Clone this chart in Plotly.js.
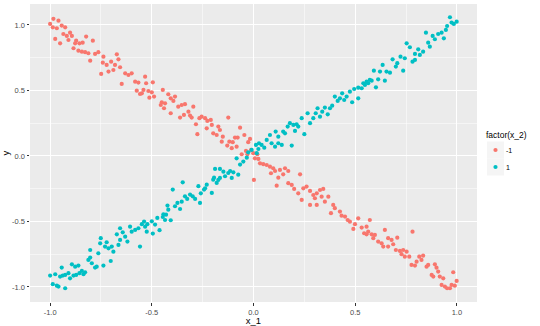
<!DOCTYPE html>
<html>
<head>
<meta charset="utf-8">
<script src="https://cdn.plot.ly/plotly-3.0.1.min.js"></script>
<style>
  html, body { margin: 0; padding: 0; background: #ffffff; }
  #chart { width: 540px; height: 326px; }
</style>
</head>
<body>
<div id="chart"></div>
<script>
// ---- data ----
const groupNames = ["-1", "1"];
const groupColors = ["#F8766D", "#00BFC4"];
const legendTitle = "factor(x_2)";

const redX = [
-0.984,-0.959,-1.0,-0.987,-0.967,-0.943,-0.926,-0.935,-0.918,-0.902,-0.893,-0.910,-0.975,-0.951,-0.872,-0.877,-0.856,-0.840,-0.823,-0.790,
-0.885,-0.861,-0.844,-0.828,-0.812,-0.779,-0.763,-0.803,-0.738,-0.741,-0.722,-0.700,-0.672,-0.664,-0.681,-0.656,-0.689,-0.713,-0.749,-0.631,
-0.615,-0.599,-0.648,-0.582,-0.566,-0.533,-0.528,-0.574,-0.558,-0.541,
-0.495,-0.549,-0.517,-0.500,-0.489,-0.512,-0.446,-0.419,-0.407,-0.394,-0.386,-0.451,-0.435,-0.456,-0.440,-0.407,-0.370,-0.353,-0.337,-0.361,
-0.342,-0.320,-0.312,-0.296,-0.304,-0.283,-0.266,-0.255,-0.238,-0.276,-0.227,-0.210,-0.230,-0.205,-0.198,-0.173,-0.165,-0.181,-0.151,-0.124,
-0.156,-0.129,-0.119,-0.091,-0.078,-0.066,-0.102,-0.083,-0.107,-0.045,-0.026,-0.017,-0.037,-0.058,-0.030,-0.012,-0.001,0.007,0.002,0.019,0.024,
0.032,0.048,0.065,0.081,0.097,0.106,0.086,0.130,0.155,0.171,0.146,0.122,0.114,0.171,0.188,0.200,0.229,0.220,0.245,0.261,
0.237,0.278,0.294,0.311,0.302,0.327,0.343,0.335,0.278,0.311,0.351,0.368,0.392,0.400,0.381,0.425,0.433,0.450,0.463,0.474,
0.499,0.491,0.515,0.532,0.556,0.544,0.564,0.572,
0.556,0.581,0.597,0.589,0.613,0.630,0.638,0.646,0.662,0.679,0.687,0.707,0.662,0.700,0.720,0.728,0.736,0.753,0.744,0.766,
0.782,0.777,0.794,0.802,0.815,0.826,0.834,0.851,0.859,0.892,0.900,0.908,0.876,0.884,0.916,0.933,0.925,0.941,0.952,0.966,
0.974,0.990,0.982,0.999
];
const redY = [
1.047,1.033,1.008,0.982,0.975,0.995,0.982,0.931,0.916,0.941,0.916,0.885,0.893,0.860,0.880,0.860,0.860,0.865,0.911,0.880,
0.822,0.804,0.796,0.792,0.784,0.779,0.792,0.727,0.758,0.712,0.695,0.720,0.776,0.738,0.695,0.677,0.656,0.644,0.626,0.631,
0.618,0.631,0.550,0.567,0.560,0.605,0.555,0.498,0.473,0.504,
0.562,0.478,0.496,0.486,0.453,0.445,0.504,0.471,0.440,0.420,0.453,0.410,0.402,0.389,0.364,0.326,0.376,0.389,0.395,0.293,
0.313,0.338,0.308,0.376,0.293,0.242,0.288,0.300,0.288,0.166,0.267,0.275,0.211,0.237,0.173,0.224,0.198,0.160,0.147,0.293,
0.109,0.079,0.109,0.140,0.140,0.216,0.105,0.071,0.059,0.160,0.105,0.130,0.038,0.013,0.013,0.046,0.021,-0.018,-0.183,0.013,-0.023,
-0.056,-0.063,-0.069,-0.082,-0.094,-0.115,-0.132,-0.107,-0.094,-0.115,-0.140,-0.166,-0.227,-0.208,-0.221,-0.252,-0.140,-0.285,-0.247,-0.234,
-0.336,-0.267,-0.298,-0.285,-0.323,-0.260,-0.252,-0.311,-0.374,-0.374,-0.349,-0.311,-0.374,-0.399,-0.437,-0.425,-0.456,-0.463,-0.489,-0.502,
-0.521,-0.557,-0.476,-0.547,-0.540,-0.590,-0.578,-0.489,
-0.598,-0.598,-0.603,-0.628,-0.654,-0.667,-0.692,-0.565,-0.628,-0.641,-0.674,-0.624,-0.692,-0.718,-0.725,-0.750,-0.718,-0.731,-0.769,-0.769,
-0.578,-0.832,-0.837,-0.807,-0.769,-0.794,-0.761,-0.845,-0.832,-0.827,-0.853,-0.883,-0.908,-0.921,-0.921,-0.934,-0.985,-0.997,-1.010,-1.010,
-0.985,-0.990,-0.888,-0.954
];

const tealX = [
-1.0,-0.975,-0.987,-0.967,-0.959,-0.926,-0.951,-0.938,-0.943,-0.926,-0.910,-0.902,-0.893,-0.885,-0.872,-0.877,-0.861,-0.856,-0.844,-0.828,
-0.836,-0.812,-0.803,-0.795,-0.803,-0.779,-0.771,-0.763,-0.754,-0.751,-0.738,-0.730,-0.713,-0.697,-0.689,-0.702,-0.722,-0.672,-0.656,-0.664,
-0.656,-0.643,-0.631,-0.620,-0.607,-0.599,-0.582,-0.558,-0.566,-0.549,-0.533,-0.522,
-0.495,-0.462,-0.500,-0.484,-0.473,-0.446,-0.430,-0.407,-0.419,-0.397,-0.386,-0.374,-0.361,-0.348,-0.337,-0.326,-0.312,-0.299,-0.287,-0.263,
-0.271,-0.243,-0.230,-0.205,-0.198,-0.181,-0.165,-0.189,-0.165,-0.140,-0.124,-0.107,-0.099,-0.075,-0.066,
-0.525,-0.538,-0.435,-0.443,-0.423,-0.353,-0.259,-0.238,-0.194,-0.173,-0.148,-0.115,-0.083,-0.050,-0.033,-0.026,-0.009,0.012,0.024,
0.016,0.027,0.040,0.053,0.065,0.081,0.089,0.106,0.122,0.109,0.122,0.139,0.146,0.155,0.168,0.179,0.188,0.196,0.212,0.220,
0.204,0.237,0.250,0.266,0.278,0.294,0.306,0.315,0.327,0.338,0.351,0.365,0.376,0.387,0.400,0.414,0.425,0.436,0.446,0.458,
0.474,0.485,0.495,0.515,0.515,0.532,0.548,0.564,0.572,
0.540,0.556,0.581,0.602,0.613,0.592,0.622,0.635,0.646,0.654,0.671,0.684,0.700,0.707,0.723,0.736,0.744,0.753,0.769,0.782,
0.794,0.794,0.810,0.818,0.834,0.848,0.859,0.867,0.881,0.892,0.908,0.925,0.936,0.946,0.952,0.966,0.974,0.985,0.999
];
const tealY = [
-0.913,-0.903,-0.979,-0.990,-0.997,-1.010,-0.921,-0.913,-0.852,-0.908,-0.895,-0.934,-0.827,-0.913,-0.908,-0.845,-0.837,-0.895,-0.878,-0.888,
-0.903,-0.794,-0.776,-0.819,-0.718,-0.852,-0.845,-0.743,-0.667,-0.628,-0.837,-0.692,-0.705,-0.692,-0.731,-0.802,-0.659,-0.598,-0.641,-0.679,
-0.552,-0.583,-0.616,-0.654,-0.540,-0.578,-0.565,-0.692,-0.552,-0.521,-0.540,-0.521,
-0.593,-0.567,-0.499,-0.524,-0.473,-0.466,-0.448,-0.491,-0.410,-0.257,-0.384,-0.359,-0.405,-0.201,-0.308,-0.328,-0.295,-0.308,-0.328,-0.359,
-0.231,-0.257,-0.219,-0.282,-0.181,-0.206,-0.168,-0.099,-0.099,-0.155,-0.130,-0.168,-0.125,-0.143,-0.066,
-0.578,-0.501,-0.489,-0.445,-0.379,-0.349,-0.285,-0.247,-0.166,-0.183,-0.120,-0.115,-0.018,-0.043,-0.013,0.028,0.046,0.084,0.053,
0.021,0.097,0.084,0.063,0.122,0.160,0.097,0.071,0.097,0.186,0.147,0.084,0.186,0.173,0.224,0.250,0.079,0.237,0.242,0.224,
0.191,0.288,0.166,0.326,0.250,0.288,0.326,0.364,0.300,0.338,0.369,0.318,0.364,0.384,0.453,0.420,0.440,0.478,0.427,0.453,
0.491,0.410,0.511,0.440,0.521,0.517,0.542,0.555,0.580,
0.555,0.567,0.575,0.524,0.585,0.651,0.644,0.695,0.575,0.644,0.636,0.738,0.682,0.708,0.758,0.651,0.746,0.860,0.830,0.720,
0.733,0.779,0.814,0.771,0.796,0.941,0.865,0.834,0.916,0.891,0.931,0.941,0.898,0.962,0.992,1.059,1.018,1.008,1.025
];

const xTickVals = [-1.0, -0.5, 0.0, 0.5, 1.0];
const xTickText = ["-1.0", "-0.5", "0.0", "0.5", "1.0"];
const yTickVals = [-1.0, -0.5, 0.0, 0.5, 1.0];
const yTickText = ["-1.0", "-0.5", "0.0", "0.5", "1.0"];
const minorVals = [-0.75, -0.25, 0.25, 0.75];

// ---- drawing ----
const font = "Liberation Sans, Arial, Helvetica, sans-serif";
const W = 540, H = 326;
const M = { l: 30, r: 63, t: 4, b: 24 };
const plotW = W - M.l - M.r, plotH = H - M.t - M.b;
const px2paperX = p => (p - M.l) / plotW;
const px2paperY = p => (H - M.b - p) / plotH;

const traces = [
  { x: redX, y: redY, name: groupNames[0], type: "scatter", mode: "markers",
    marker: { color: groupColors[0], size: 4.2 }, hoverinfo: "x+y" },
  { x: tealX, y: tealY, name: groupNames[1], type: "scatter", mode: "markers",
    marker: { color: groupColors[1], size: 4.2 }, hoverinfo: "x+y" }
];

// hand-built ggplot-style legend (key boxes, dots, labels)
const keyCenterX = 495.5, keyCenterY = [150, 167], keySize = 17;
const shapes = [], annotations = [];
groupNames.forEach((g, i) => {
  shapes.push({ type: "rect", xref: "paper", yref: "paper",
    xsizemode: "pixel", ysizemode: "pixel",
    xanchor: px2paperX(keyCenterX), yanchor: px2paperY(keyCenterY[i]),
    x0: -keySize / 2, x1: keySize / 2, y0: -keySize / 2, y1: keySize / 2,
    fillcolor: "#F5F5F5", line: { width: 0 }, layer: "below" });
  shapes.push({ type: "circle", xref: "paper", yref: "paper",
    xsizemode: "pixel", ysizemode: "pixel",
    xanchor: px2paperX(keyCenterX), yanchor: px2paperY(keyCenterY[i]),
    x0: -2.1, x1: 2.1, y0: -2.1, y1: 2.1,
    fillcolor: groupColors[i], line: { width: 0 } });
  annotations.push({ xref: "paper", yref: "paper",
    x: px2paperX(505), y: px2paperY(keyCenterY[i]), xanchor: "left", yanchor: "middle",
    text: g, showarrow: false, borderpad: 0,
    font: { family: font, size: 7, color: "#000000" } });
});
annotations.push({ xref: "paper", yref: "paper",
  x: px2paperX(485), y: px2paperY(135), xanchor: "left", yanchor: "middle",
  text: legendTitle, showarrow: false, borderpad: 0,
  font: { family: font, size: 8.5, color: "#000000" } });

const axisCommon = {
  showgrid: true, gridcolor: "#FFFFFF", gridwidth: 1,
  zeroline: false, showline: false,
  ticks: "outside", ticklen: 2.5, tickwidth: 1, tickcolor: "#333333",
  tickfont: { family: font, size: 7.5, color: "#4D4D4D" },
  automargin: false,
  minor: { tickvals: minorVals, showgrid: true, gridcolor: "#FFFFFF", gridwidth: 0.5, ticks: "" }
};

const layout = {
  width: W, height: H,
  margin: { l: M.l, r: M.r, t: M.t, b: M.b, pad: 0 },
  paper_bgcolor: "#FFFFFF",
  plot_bgcolor: "#EBEBEB",
  font: { family: font, color: "#000000" },
  showlegend: false,
  shapes: shapes,
  annotations: annotations,
  xaxis: Object.assign({}, axisCommon, {
    range: [-1.099, 1.099], tickmode: "array", tickvals: xTickVals, ticktext: xTickText,
    title: { text: "x_1", font: { family: font, size: 9.5, color: "#000000" }, standoff: 0 }
  }),
  yaxis: Object.assign({}, axisCommon, {
    range: [-1.115, 1.16], tickmode: "array", tickvals: yTickVals, ticktext: yTickText,
    title: { text: "y", font: { family: font, size: 9.5, color: "#000000" }, standoff: 4 }
  })
};

Plotly.newPlot("chart", traces, layout, { displayModeBar: false, staticPlot: true });
</script>
</body>
</html>
